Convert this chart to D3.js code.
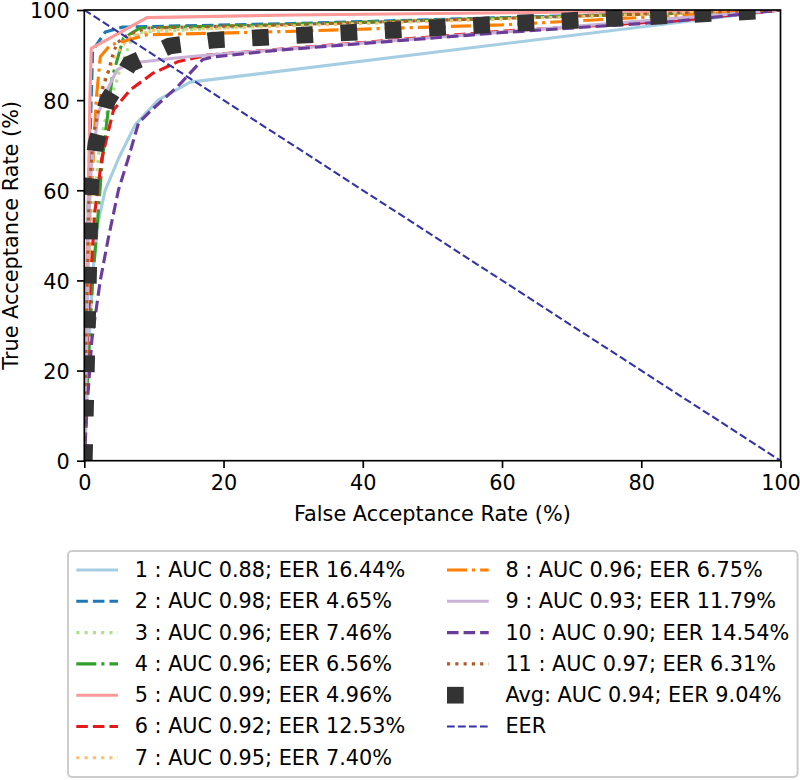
<!DOCTYPE html>
<html><head><meta charset="utf-8">
<script src="https://cdn.jsdelivr.net/npm/d3@7"></script>
<style>body{margin:0;background:#fff}svg{display:block}text{font-family:"DejaVu Sans",sans-serif}</style>
</head><body>
<svg id="c" width="800" height="780"></svg>
<script>
// ---- data (FAR %, TAR %) ----
const ticks = [0, 20, 40, 60, 80, 100];
const seriesLabels = ["1 : AUC 0.88; EER 16.44%","2 : AUC 0.98; EER 4.65%","3 : AUC 0.96; EER 7.46%","4 : AUC 0.96; EER 6.56%","5 : AUC 0.99; EER 4.96%","6 : AUC 0.92; EER 12.53%","7 : AUC 0.95; EER 7.40%","8 : AUC 0.96; EER 6.75%","9 : AUC 0.93; EER 11.79%","10 : AUC 0.90; EER 14.54%","11 : AUC 0.97; EER 6.31%"];
const avgLabel = "Avg: AUC 0.94; EER 9.04%";
const eerLabel = "EER";
const curve1 = [[0,0],[0.3,10],[0.8,30],[1.3,43],[2,53],[3,60],[4.9,67],[7.3,74.5],[10.6,80],[15.2,84],[100,100]];
const curve2 = [[0,0],[0.3,30],[0.6,60],[1.2,91],[3,95.1],[5.5,96.2],[30,97],[100,100]];
const curve3 = [[0,0],[0.5,30],[1.2,55],[2.2,70],[3.5,79],[4.7,84.5],[5.2,87.4],[6.6,92.7],[7.5,95],[30,96.8],[100,100]];
const curve4 = [[0,0],[0.5,20],[1.2,40],[2,55],[2.6,67],[4,85],[5.6,93.7],[8,96],[30,96.8],[100,100]];
const curve5 = [[0,0],[0.3,30],[0.6,60],[0.8,80],[1,91.5],[9,98.3],[30,98.9],[100,100]];
const curve6 = [[0,0],[0.5,30],[1.5,55],[2.5,67],[4.2,77.8],[6.6,82.3],[9.9,86],[13.4,88.5],[17.7,90],[60,95.3],[85,97.6],[100,100]];
const curve7 = [[0,0],[0.3,30],[0.8,60],[1.5,74],[2.2,81],[3,85],[4.5,90],[6.5,94],[10,95.5],[30,96.5],[100,100]];
const curve8 = [[0,0],[0.4,30],[0.8,55],[1.4,70],[1.7,80],[2.3,89.6],[3.7,92.2],[6.2,93.3],[9,94.5],[28,95.2],[60,96.7],[100,100]];
const curve9 = [[0,0],[0.4,30],[0.7,55],[1,65],[2,77],[3.3,82.3],[4.7,86.7],[6.6,88.2],[12.8,89.3],[17,89.9],[60,95.1],[100,100]];
const curve10 = [[0,0],[0.4,12],[1.1,27],[2.3,40],[3.4,49],[4.9,60],[6.3,67],[7.8,75],[9.8,78],[13.4,83],[17,89],[18.6,89.6],[28,91.1],[60,95],[85,97.5],[100,100]];
const curve11 = [[0,0],[0.3,30],[0.7,60],[1.3,72],[2.3,80],[2.7,83],[3.4,86],[4,89.6],[4.7,92.7],[6.2,94.5],[9,96],[30,96.8],[100,100]];
const avgCurve = [[0,0],[0.9,61],[1.7,70.5],[3.3,79.8],[6.5,88],[12.2,92],[18.4,93.3],[60,96.9],[100,100]];
const eerLine = [[0,100],[100,0]];
const curves = [curve1,curve2,curve3,curve4,curve5,curve6,curve7,curve8,curve9,curve10,curve11];
const colors = ["#a6cee3","#1f78b4","#b2df8a","#33a02c","#fb9a99","#e31a1c","#fdbf6f","#ff7f00","#cab2d6","#6a3d9a","#b15928"];

// ---- styles ----
const LW = 3.125;
const dashFor = i => { const s = i % 4; return s===0 ? null : s===1 ? [3.7*LW,1.6*LW] : s===2 ? [1*LW,1.65*LW] : [6.4*LW,1.6*LW,1*LW,1.6*LW]; };
const AVG_LW = 16.7, AVG_DASH = [16.7, 27.6];
const EER_LW = 2.08, EER_DASH = [7.7, 3.3];
const FS = 20.8;

const svg = d3.select("#c");
const x = d3.scaleLinear().domain([0,100]).range([84.3,780.5]);
const y = d3.scaleLinear().domain([0,100]).range([460.7,10]);

svg.append("defs").append("clipPath").attr("id","clip").append("rect")
  .attr("x",x(0)).attr("y",y(100)).attr("width",x(100)-x(0)).attr("height",y(0)-y(100));

const line = d3.line().x(d=>x(d[0])).y(d=>y(d[1]));
const g = svg.append("g").attr("clip-path","url(#clip)");
curves.forEach((c,i)=>{
  const da = dashFor(i);
  g.append("path").attr("d",line(c)).attr("fill","none").attr("stroke",colors[i])
   .attr("stroke-width",LW).attr("stroke-dasharray",da?da.join(","):null)
   .attr("stroke-linejoin","round").attr("stroke-linecap",da?"butt":"square");
});
g.append("path").attr("d",line(avgCurve)).attr("fill","none").attr("stroke","#333333")
  .attr("stroke-width",AVG_LW).attr("stroke-dasharray",AVG_DASH.join(",")).attr("stroke-linecap","butt");
g.append("path").attr("d",line(eerLine)).attr("fill","none").attr("stroke","#3333a6")
  .attr("stroke-width",EER_LW).attr("stroke-dasharray",EER_DASH.join(","));

// axes
const xa = svg.append("g").attr("transform",`translate(0,${y(0)})`)
  .call(d3.axisBottom(x).tickValues(ticks).tickSize(7.3).tickPadding(7.3).tickFormat(d3.format("d")));
const ya = svg.append("g").attr("transform",`translate(${x(0)},0)`)
  .call(d3.axisLeft(y).tickValues(ticks).tickSize(7.3).tickPadding(7.3).tickFormat(d3.format("d")));
[xa,ya].forEach(a=>{
  a.select(".domain").remove();
  a.selectAll(".tick line").attr("stroke","#000").attr("stroke-width",1.67);
  a.selectAll(".tick text").attr("fill","#000").style("font-size",FS+"px").style("font-family","DejaVu Sans");
});
ya.selectAll(".tick text").attr("dy","0.38em");
svg.append("rect").attr("x",x(0)).attr("y",y(100)).attr("width",x(100)-x(0)).attr("height",y(0)-y(100))
  .attr("fill","none").attr("stroke","#000").attr("stroke-width",1.67);

svg.append("text").attr("x",(x(0)+x(100))/2).attr("y",521).attr("text-anchor","middle")
  .style("font-size",FS+"px").text("False Acceptance Rate (%)");
svg.append("text").attr("transform",`translate(18,${(y(0)+y(100))/2}) rotate(-90)`).attr("text-anchor","middle")
  .style("font-size",FS+"px").text("True Acceptance Rate (%)");

// legend
const L = svg.append("g");
L.append("rect").attr("x",68).attr("y",551).attr("width",729.6).attr("height",226).attr("rx",4)
  .attr("fill","#fff").attr("stroke","#cccccc").attr("stroke-width",2);
const entries = seriesLabels.map((t,i)=>({t, color:colors[i], lw:LW, dash:dashFor(i)}));
entries.push({t:avgLabel, color:"#333333", lw:AVG_LW, dash:AVG_DASH});
entries.push({t:eerLabel, color:"#3333a6", lw:EER_LW, dash:EER_DASH});
const colX = [76.3, 447];
entries.forEach((e,k)=>{
  const col = k<7?0:1, row = k<7?k:k-7;
  const cy = 570 + row*31.3;
  const hx = colX[col];
  L.append("line").attr("x1",hx).attr("x2",hx+41.7).attr("y1",cy).attr("y2",cy)
   .attr("stroke",e.color).attr("stroke-width",e.lw).attr("stroke-dasharray",e.dash?e.dash.join(","):null);
  L.append("text").attr("x",hx+41.7+16.7).attr("y",cy+6.9).style("font-size",FS+"px").attr("fill","#000").text(e.t);
});
</script>
</body></html>
